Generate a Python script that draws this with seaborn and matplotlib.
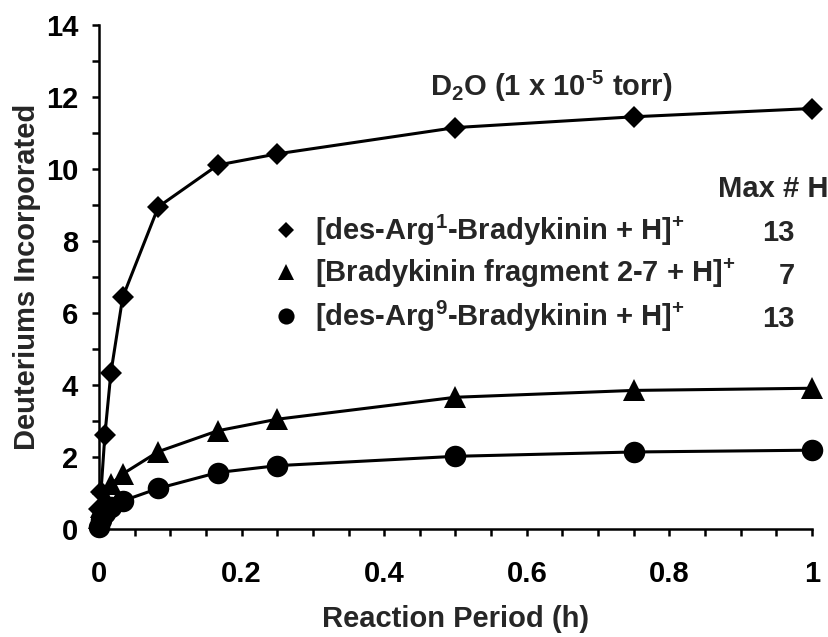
#!/usr/bin/env python3

import numpy as np
from matplotlib import pyplot as plt
from matplotlib.lines import Line2D
from matplotlib.ticker import MultipleLocator
import seaborn as sns
import pandas as pd


time_title = "Reaction Period (h)"
deut_title = "Deuteriums Incorporated"
ion_title = "Ion"

# reaction times in hours (0, 10 s, 30 s, 1, 2, 5, 10, 15, 30, 45, 60 min)
times = [0.0, 0.0028, 0.0083, 0.0167, 0.0333, 0.0833, 0.1667, 0.25, 0.5, 0.75, 1.0]
des_arg1 = [0.55, 1.03, 2.62, 4.34, 6.44, 8.95, 10.11, 10.42, 11.15, 11.45, 11.68]
fragment_2_7 = [0.3, 0.6, 0.9, 1.24, 1.53, 2.15, 2.73, 3.05, 3.66, 3.85, 3.91]
des_arg9 = [0.05, 0.25, 0.45, 0.6, 0.78, 1.13, 1.57, 1.76, 2.02, 2.14, 2.19]

ion_names = [
    "[des-Arg$^{1}$-Bradykinin + H]$^{+}$",
    "[Bradykinin fragment 2-7 + H]$^{+}$",
    "[des-Arg$^{9}$-Bradykinin + H]$^{+}$",
]
max_h = ["13", "7", "13"]
ion_markers = ["D", "^", "o"]
ion_marker_sizes = [11.5, 16, 15.5]

font_size = 21


def build_frame():
    data = {time_title: [], deut_title: [], ion_title: []}
    for name, values in zip(ion_names, [des_arg1, fragment_2_7, des_arg9]):
        for t, v in zip(times, values):
            data[time_title].append(t)
            data[deut_title].append(v)
            data[ion_title].append(name)
    return pd.DataFrame(data)


def main():
    df = build_frame()
    sns.set_theme(style="ticks")
    plt.rcParams["font.family"] = ["Liberation Sans", "DejaVu Sans"]
    plt.rcParams["font.weight"] = "bold"
    plt.rcParams["mathtext.fontset"] = "custom"
    plt.rcParams["mathtext.rm"] = "Liberation Sans:bold"
    plt.rcParams["mathtext.bf"] = "Liberation Sans:bold"
    plt.rcParams["mathtext.it"] = "Liberation Sans:bold"
    plt.rcParams["mathtext.default"] = "rm"

    fig = plt.figure(figsize=(8.29, 6.37), dpi=100)
    ax = fig.add_axes([0.1194, 0.1695, 0.8601, 0.7913])

    for name, marker, ms in zip(ion_names, ion_markers, ion_marker_sizes):
        sub = df[df[ion_title] == name]
        sns.lineplot(
            x=time_title, y=deut_title, data=sub, ax=ax, color="black",
            marker=marker, markersize=ms, markeredgewidth=0, linewidth=2.2,
            clip_on=False, legend=False, zorder=3,
        )

    ax.set_xlim(0, 1)
    ax.set_ylim(0, 14)
    ax.xaxis.set_minor_locator(MultipleLocator(0.05))
    ax.yaxis.set_major_locator(MultipleLocator(2))
    ax.yaxis.set_minor_locator(MultipleLocator(1))
    ax.set_xticks([0, 0.2, 0.4, 0.6, 0.8, 1.0])
    ax.set_xticklabels(["0", "0.2", "0.4", "0.6", "0.8", "1"])
    ax.tick_params(which="both", direction="out", length=5, width=1.8,
                   labelsize=font_size, colors="black")
    ax.tick_params(axis="x", which="major", pad=17)
    ax.tick_params(axis="y", which="major", pad=10)
    for side in ["top", "right"]:
        ax.spines[side].set_visible(False)
    for side in ["left", "bottom"]:
        ax.spines[side].set_linewidth(1.8)
        ax.spines[side].set_color("black")

    ax.set_xlabel(time_title, fontsize=font_size, fontweight="bold")
    ax.set_ylabel(deut_title, fontsize=font_size, fontweight="bold")
    ax.xaxis.set_label_coords(0.5, -0.15)
    ax.yaxis.set_label_coords(-0.082, 0.5)

    ax.text(0.634, 12.3, "D$_{2}$O (1 x 10$^{\\text{-}5}$ torr)",
            fontsize=font_size, fontweight="bold", ha="center", va="center",
            transform=ax.get_yaxis_transform())

    handles = [
        Line2D([], [], color="black", marker=m, linestyle="none",
               markersize=s * 0.75, markeredgewidth=0)
        for m, s in zip(ion_markers, ion_marker_sizes)
    ]
    ax.legend(handles, ion_names, loc="upper left",
              bbox_to_anchor=(0.225, 0.65), frameon=False,
              prop={"size": font_size, "weight": "bold"}, handlelength=1.0,
              handletextpad=0.5, labelspacing=0.3, borderaxespad=0)

    ax.text(1.023, 9.45, "Max # H", fontsize=font_size, fontweight="bold",
            ha="right", va="center", transform=ax.get_yaxis_transform())
    for value, y in zip(max_h, [8.23, 7.04, 5.84]):
        ax.text(0.976, y, value, fontsize=font_size, fontweight="bold",
                ha="right", va="center", transform=ax.get_yaxis_transform())

    fig.savefig("out.png", dpi=100)


if __name__ == "__main__":
    main()
